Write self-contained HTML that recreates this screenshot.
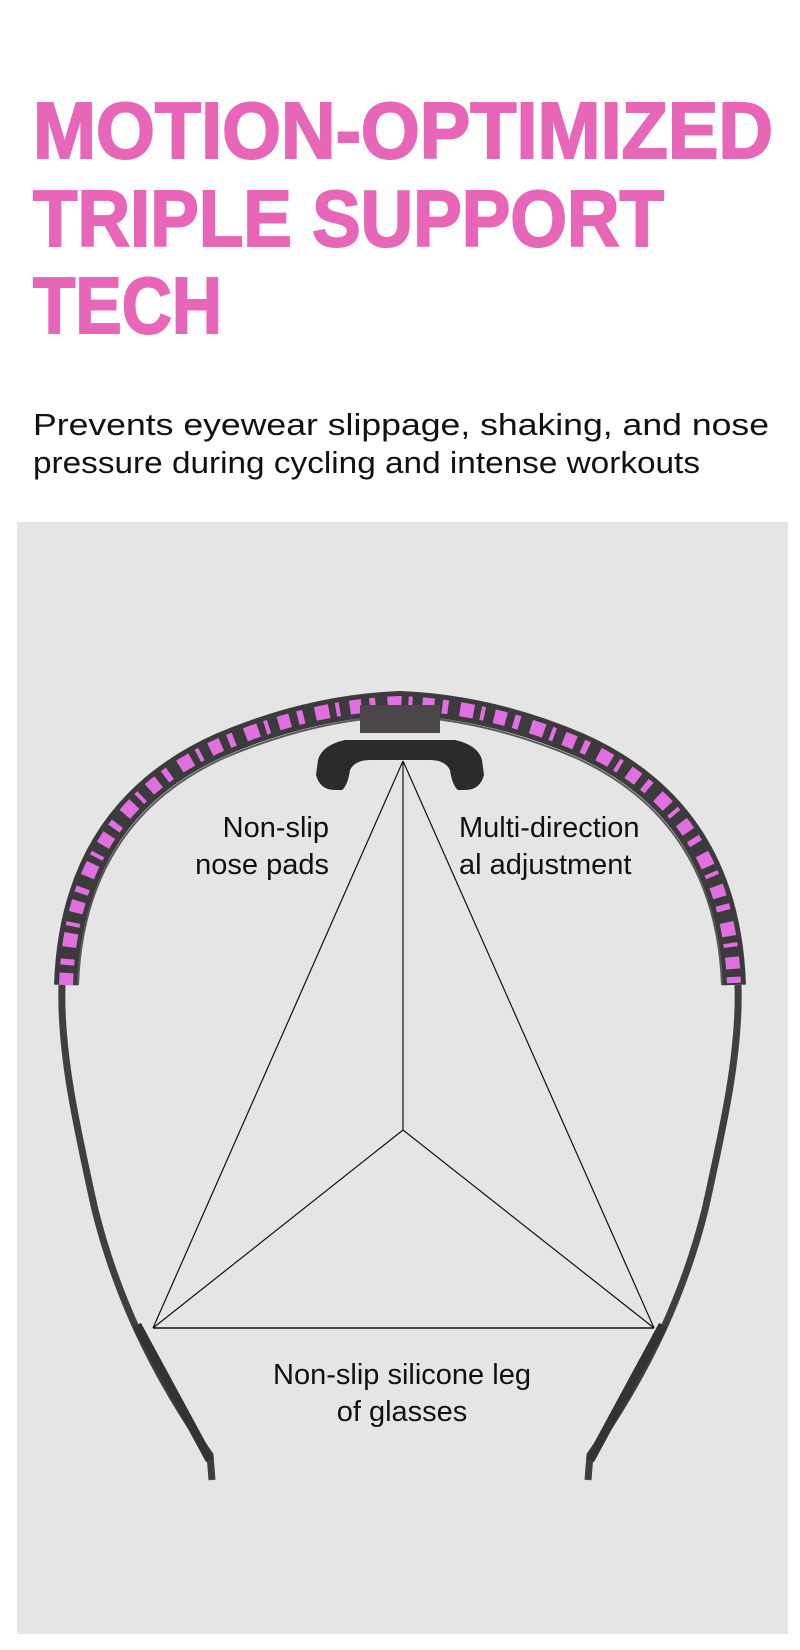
<!DOCTYPE html>
<html><head><meta charset="utf-8"><style>
html,body{margin:0;padding:0;background:#fff;}
svg{display:block;}
</style></head><body>
<svg width="800" height="1650" viewBox="0 0 800 1650" xmlns="http://www.w3.org/2000/svg">
<rect width="800" height="1650" fill="#fff"/>
<g font-family="Liberation Sans, sans-serif" font-weight="bold" font-size="80" fill="#E866B8" stroke="#E866B8" stroke-width="2">
<text x="33" y="158" textLength="740" lengthAdjust="spacingAndGlyphs">MOTION-OPTIMIZED</text>
<text x="33" y="246" textLength="631" lengthAdjust="spacingAndGlyphs">TRIPLE SUPPORT</text>
<text x="33" y="333" textLength="189" lengthAdjust="spacingAndGlyphs">TECH</text>
</g>
<g font-family="Liberation Sans, sans-serif" font-size="31" fill="#111">
<text x="33" y="435" textLength="736" lengthAdjust="spacingAndGlyphs">Prevents eyewear slippage, shaking, and nose</text>
<text x="33" y="473" textLength="667" lengthAdjust="spacingAndGlyphs">pressure during cycling and intense workouts</text>
</g>
<rect x="17" y="522" width="771" height="1112" fill="#e5e5e5"/>
<!-- frame -->
<path d="M66,985 C70,870 120,790 220,745 C290,715 350,705 400,703 C450,705 510,715 580,745 C680,790 730,870 734,985" fill="none" stroke="#3d3a3d" stroke-width="24"/>
<path d="M66,985 C70,870 120,790 220,745 C290,715 350,705 400,703 C450,705 510,715 580,745 C680,790 730,870 734,985" fill="none" stroke="#e070e0" stroke-width="14" stroke-dasharray="12 8 6 12 14 7 4 10"/>
<path d="M78,985 C82,878 130,800 226,757 C295,728 352,718 400,716 C448,718 505,728 574,757 C670,800 718,878 722,985" fill="none" stroke="#5a5a5a" stroke-width="2"/>
<rect x="360" y="705" width="80" height="28" fill="#4a464a"/>
<!-- temples -->
<path d="M62,985 C60,1050 75,1120 95,1210 C115,1290 150,1370 210,1455 L212,1480" fill="none" stroke="#3f3f3f" stroke-width="7"/>
<path d="M738,985 C740,1050 725,1120 705,1210 C685,1290 650,1370 590,1455 L588,1480" fill="none" stroke="#3f3f3f" stroke-width="7"/>
<path d="M137,1325 L210,1460" stroke="#333" stroke-width="9"/>
<path d="M663,1325 L590,1460" stroke="#333" stroke-width="9"/>
<!-- nose pad -->
<path d="M318,760 Q322,745 345,740 L455,740 Q478,745 482,760 L484,775 Q480,790 465,790 L458,790 Q452,785 450,770 Q445,760 430,760 L370,760 Q355,760 350,770 Q348,785 342,790 L335,790 Q320,790 316,775 Z" fill="#2b2b2b"/>
<!-- lines -->
<g stroke="#111" stroke-width="1.2" fill="none">
<line x1="403" y1="761" x2="153" y2="1328"/>
<line x1="403" y1="761" x2="654" y2="1328"/>
<line x1="403" y1="761" x2="403" y2="1130"/>
<line x1="403" y1="1130" x2="153" y2="1328"/>
<line x1="403" y1="1130" x2="654" y2="1328"/>
<line x1="153" y1="1328" x2="654" y2="1328" stroke-width="1.6"/>
</g>
<g font-family="Liberation Sans, sans-serif" font-size="29" fill="#111">
<text x="329" y="837" text-anchor="end">Non-slip</text>
<text x="329" y="874" text-anchor="end">nose pads</text>
<text x="459" y="837">Multi-direction</text>
<text x="459" y="874">al adjustment</text>
<text x="402" y="1384" text-anchor="middle">Non-slip silicone leg</text>
<text x="402" y="1421" text-anchor="middle">of glasses</text>
</g>
</svg>
</body></html>
